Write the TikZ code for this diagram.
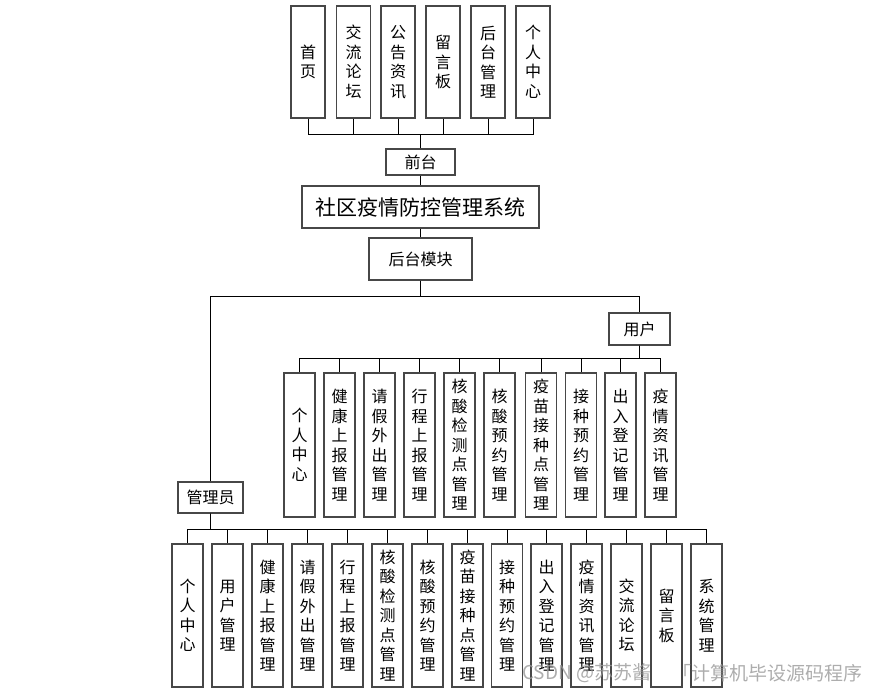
\documentclass[tikz,border=0pt]{standalone}
\usepackage{fontspec}
\setmainfont{Noto Sans CJK SC}
\begin{document}
\begin{tikzpicture}[x=1pt,y=-1pt,
  box/.style={draw=black!72, line width=1.1pt, fill=white, inner sep=0pt, align=center,
    font=\fontsize{16}{19.5}\selectfont},
  topbox/.style={box, minimum width=34, minimum height=112},
  ubox/.style={box, minimum width=31, minimum height=144},
  abox/.style={box, minimum width=31, minimum height=143},
  conn/.style={draw=black, line width=0.9pt},
  wm/.style={text=black!40, opacity=0.8, font=\fontsize{19}{22}\selectfont, inner sep=0pt}
]
\useasboundingbox (0,0) rectangle (880,693);
% top boxes
\node[topbox] (t1) at (308,62) {首\\页};
\node[topbox] (t2) at (353.5,62) {交\\流\\论\\坛};
\node[topbox] (t3) at (398,62) {公\\告\\资\\讯};
\node[topbox] (t4) at (443,62) {留\\言\\板};
\node[topbox] (t5) at (488,62) {后\\台\\管\\理};
\node[topbox] (t6) at (533,62) {个\\人\\中\\心};
\node[box, minimum width=69, minimum height=26] (qt) at (420.5,162) {前台};
\node[box, minimum width=237, minimum height=42, font=\fontsize{21}{24}\selectfont] (sys) at (420.5,207) {社区疫情防控管理系统};
\node[box, minimum width=103, minimum height=42] (ht) at (420.5,259) {后台模块};
\node[box, minimum width=61, minimum height=32] (yh) at (639.5,329) {用户};
\node[box, minimum width=65, minimum height=31] (gly) at (210.5,497.5) {管理员};
% user children
\node[ubox] (u1) at (299.5,445) {个\\人\\中\\心};
\node[ubox] (u2) at (339.5,445) {健\\康\\上\\报\\管\\理};
\node[ubox] (u3) at (379.5,445) {请\\假\\外\\出\\管\\理};
\node[ubox] (u4) at (419.5,445) {行\\程\\上\\报\\管\\理};
\node[ubox] (u5) at (459.5,445) {核\\酸\\检\\测\\点\\管\\理};
\node[ubox] (u6) at (499.5,445) {核\\酸\\预\\约\\管\\理};
\node[ubox] (u7) at (541,445) {疫\\苗\\接\\种\\点\\管\\理};
\node[ubox] (u8) at (581,445) {接\\种\\预\\约\\管\\理};
\node[ubox] (u9) at (620.5,445) {出\\入\\登\\记\\管\\理};
\node[ubox] (u10) at (660.5,445) {疫\\情\\资\\讯\\管\\理};
% admin children
\node[abox] (a1) at (187.5,615.5) {个\\人\\中\\心};
\node[abox] (a2) at (227.5,615.5) {用\\户\\管\\理};
\node[abox] (a3) at (267.5,615.5) {健\\康\\上\\报\\管\\理};
\node[abox] (a4) at (307.5,615.5) {请\\假\\外\\出\\管\\理};
\node[abox] (a5) at (347.5,615.5) {行\\程\\上\\报\\管\\理};
\node[abox] (a6) at (387.5,615.5) {核\\酸\\检\\测\\点\\管\\理};
\node[abox] (a7) at (427.5,615.5) {核\\酸\\预\\约\\管\\理};
\node[abox] (a8) at (467.5,615.5) {疫\\苗\\接\\种\\点\\管\\理};
\node[abox] (a9) at (507,615.5) {接\\种\\预\\约\\管\\理};
\node[abox] (a10) at (546.5,615.5) {出\\入\\登\\记\\管\\理};
\node[abox] (a11) at (586.5,615.5) {疫\\情\\资\\讯\\管\\理};
\node[abox] (a12) at (626.5,615.5) {交\\流\\论\\坛};
\node[abox] (a13) at (666.5,615.5) {留\\言\\板};
\node[abox] (a14) at (706.5,615.5) {系\\统\\管\\理};
% connectors
\foreach \i in {1,...,6} \draw[conn] (t\i.south) -- ++(0,16) -| (qt.north);
\draw[conn] (qt.south) -- (sys.north);
\draw[conn] (sys.south) -- (ht.north);
\draw[conn] (ht.south) -- ++(0,16) -| (yh.north);
\draw[conn] (ht.south) -- ++(0,16) -| (gly.north);
\foreach \i in {1,...,10} \draw[conn] (yh.south) -- ++(0,13) -| (u\i.north);
\foreach \i in {1,...,14} \draw[conn] (gly.south) -- ++(0,16) -| (a\i.north);
% watermark
\node[wm, anchor=west] (wm1) at (522,673) {CSDN @苏苏酱};
\node[wm, anchor=east] (wm2) at (863,673) {「计算机毕设源码程序};
\end{tikzpicture}
\end{document}
